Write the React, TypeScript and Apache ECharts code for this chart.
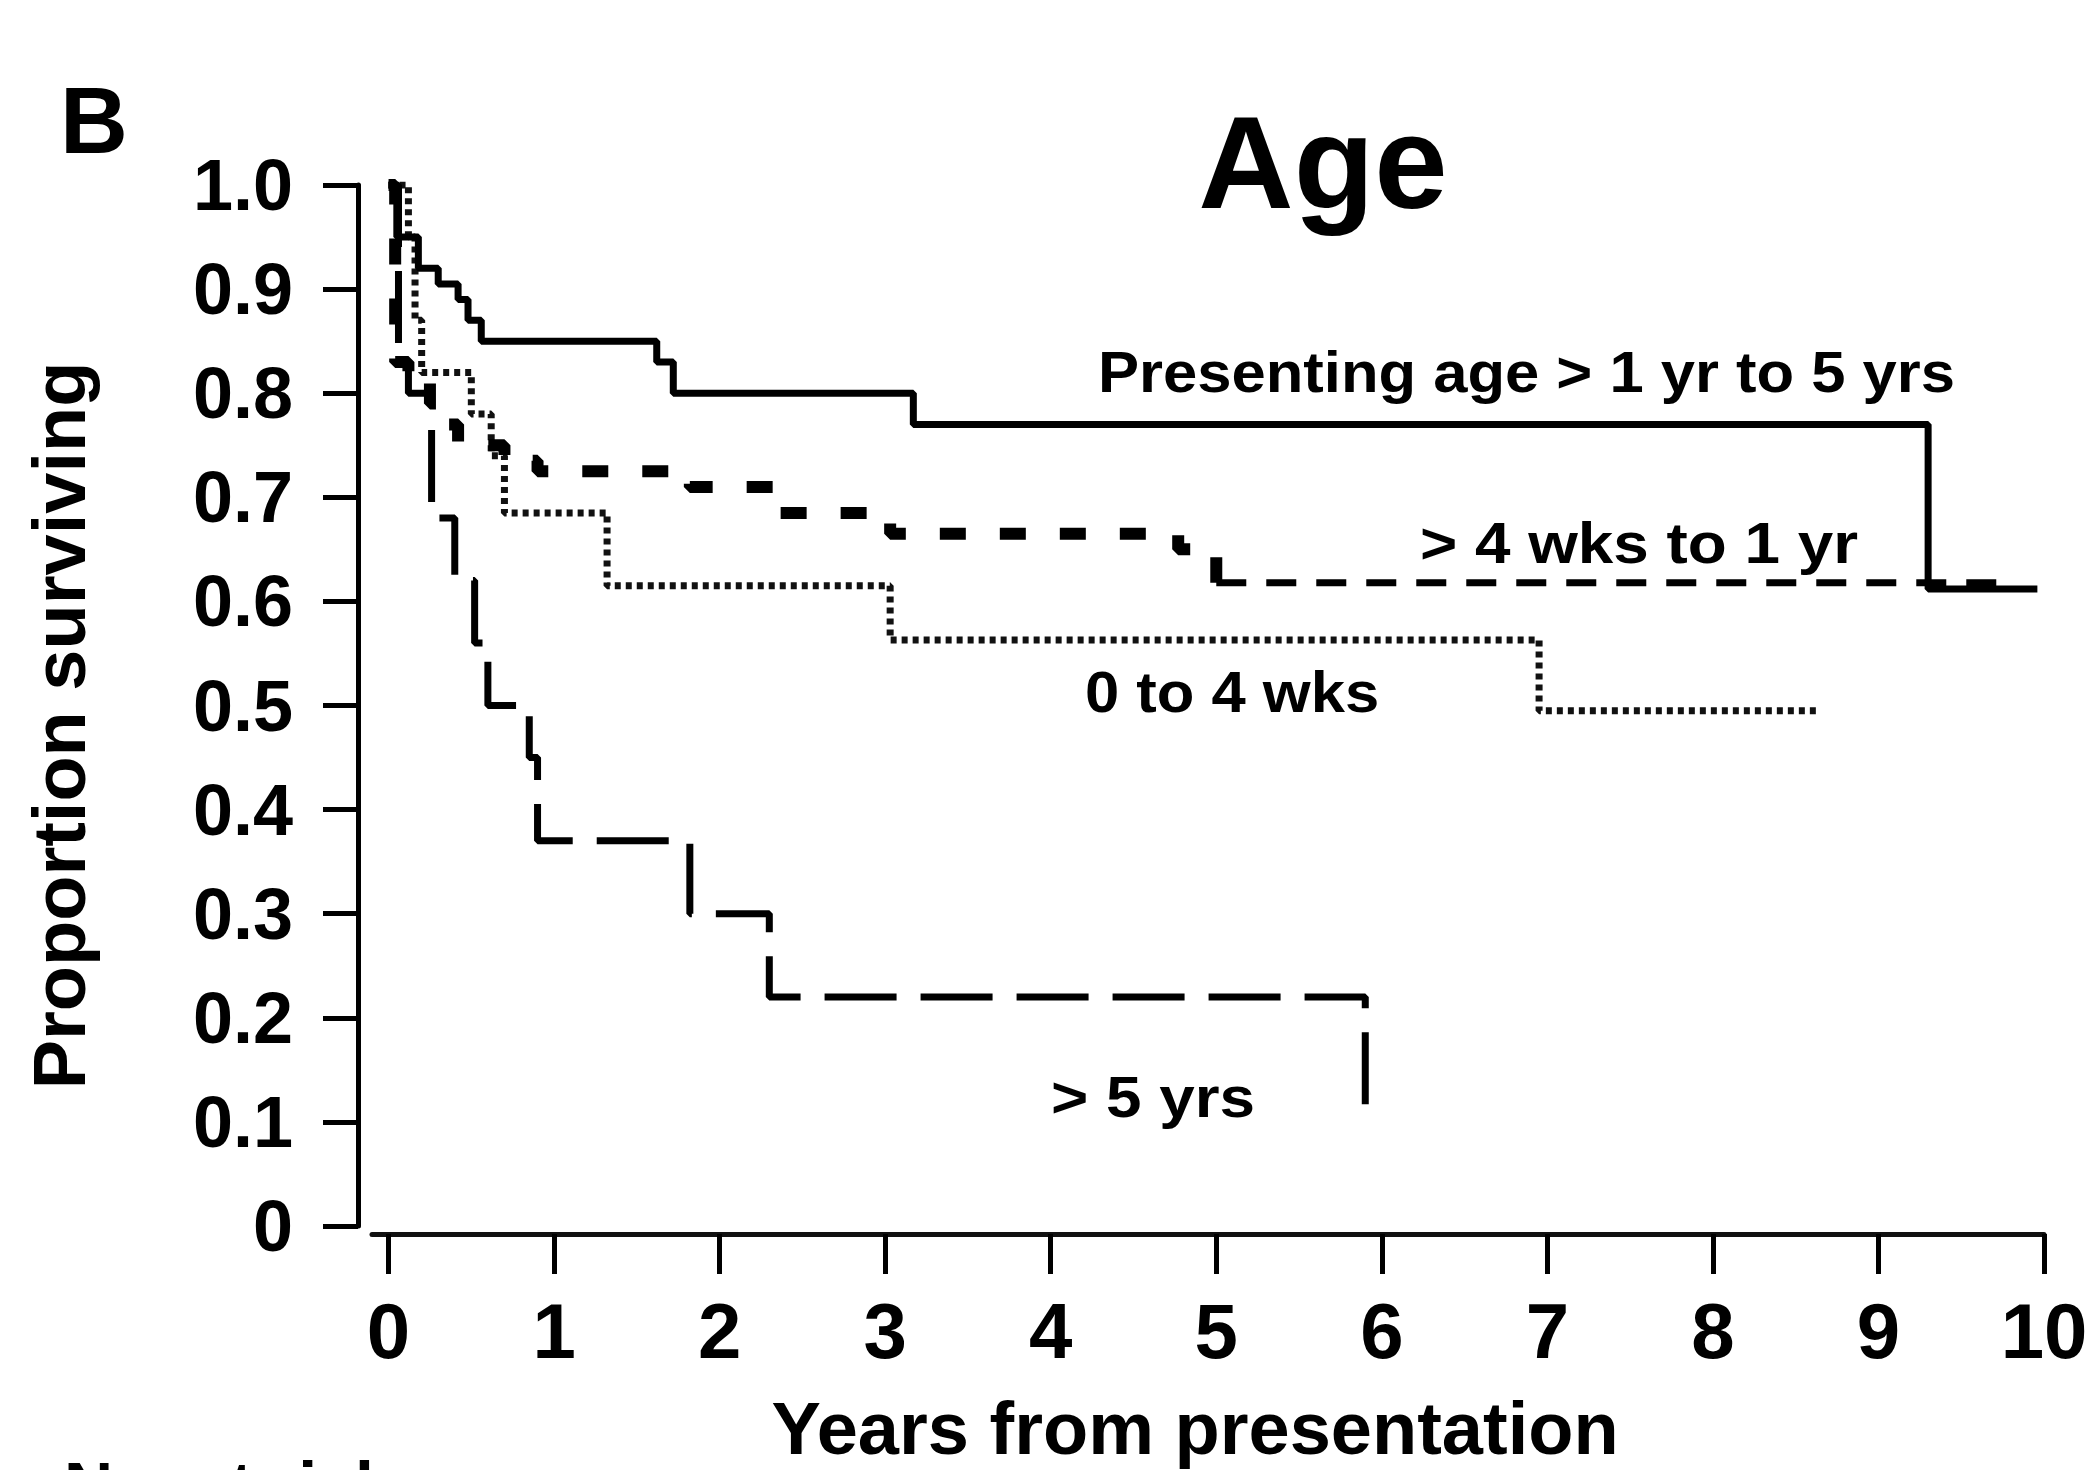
import React, { useEffect, useRef } from 'react';
import * as echarts from 'echarts';

// ---- Data ----
const xTickValues = [0, 1, 2, 3, 4, 5, 6, 7, 8, 9, 10];
const yTickLabels = ['0', '0.1', '0.2', '0.3', '0.4', '0.5', '0.6', '0.7', '0.8', '0.9', '1.0'];

// Presenting age > 1 yr to 5 yrs (solid)
const timesAge1to5 = [0, 0.05, 0.18, 0.3, 0.42, 0.48, 0.56, 1.62, 1.72, 3.17, 9.3, 9.96];
const survAge1to5 = [1.0, 0.95, 0.92, 0.905, 0.89, 0.87, 0.85, 0.83, 0.8, 0.77, 0.612, 0.612];

// > 4 wks to 1 yr (bold dashes, thinner after ~5 yrs)
const timesAge4wTo1y = [0, 0.04, 0.12, 0.25, 0.36, 0.42, 0.7, 0.9, 1.82, 2.34, 3.03, 4.77, 5.0, 9.75];
const survAge4wTo1y = [1.0, 0.83, 0.81, 0.79, 0.77, 0.75, 0.735, 0.725, 0.71, 0.685, 0.665, 0.65, 0.618, 0.618];
const boldPartEnd = 13; // points before this index are drawn with the heavy dash

// 0 to 4 wks (dotted)
const timesAge0To4w = [0, 0.12, 0.16, 0.2, 0.5, 0.62, 0.7, 1.32, 3.03, 6.95, 8.65];
const survAge0To4w = [1.0, 0.95, 0.87, 0.82, 0.78, 0.74, 0.685, 0.615, 0.563, 0.495, 0.495];

// > 5 yrs (long dashes)
const timesAgeOver5 = [0, 0.06, 0.12, 0.26, 0.4, 0.52, 0.6, 0.85, 0.9, 1.82, 2.3, 5.9];
const survAgeOver5 = [1.0, 0.83, 0.8, 0.68, 0.62, 0.56, 0.5, 0.45, 0.37, 0.3, 0.22, 0.11];

const FONT = "'Liberation Sans', Arial, Helvetica, sans-serif";

const pairs = (t: number[], s: number[]) => t.map((v, i) => [v, s[i]]);

export default function App() {
  const ref = useRef<HTMLDivElement>(null);

  useEffect(() => {
    document.body.style.margin = '0';
    if (!ref.current) return;
    const chart = echarts.init(ref.current, null, { renderer: 'svg' });

    const d4w = pairs(timesAge4wTo1y, survAge4wTo1y);

    const option: any = {
      animation: false,
      backgroundColor: '#ffffff',
      grid: { left: 372, right: 56, top: 185, bottom: 231, containLabel: false },
      xAxis: {
        type: 'value',
        min: -0.1,
        max: 10,
        offset: 8,
        splitLine: { show: false },
        axisLine: { show: true, onZero: false, lineStyle: { color: '#111', width: 5 } },
        axisTick: { show: true, length: 40, customValues: xTickValues, lineStyle: { color: '#000', width: 5 } },
        axisLabel: {
          customValues: xTickValues,
          margin: 58,
          fontSize: 78,
          fontWeight: 'bold',
          color: '#000',
          fontFamily: FONT,
        },
        name: 'Years from presentation',
        nameLocation: 'middle',
        nameGap: 157,
        nameTextStyle: { fontSize: 74, fontWeight: 'bold', color: '#000', fontFamily: FONT, padding: [0, 26, 0, 0] },
      },
      yAxis: {
        type: 'value',
        min: 0,
        max: 1,
        interval: 0.1,
        offset: 14,
        splitLine: { show: false },
        axisLine: { show: true, onZero: false, lineStyle: { color: '#000', width: 5 } },
        axisTick: { show: true, length: 35, lineStyle: { color: '#000', width: 5 } },
        axisLabel: {
          margin: 65,
          fontSize: 72,
          fontWeight: 'bold',
          color: '#000',
          fontFamily: FONT,
          padding: [10, 0, 0, 0],
          formatter: (v: number) => yTickLabels[Math.round(v * 10)],
        },
        name: 'Proportion surviving',
        nameLocation: 'middle',
        nameRotate: 90,
        nameGap: 262,
        nameTextStyle: { fontSize: 74, fontWeight: 'bold', color: '#000', fontFamily: FONT, padding: [0, 40, 0, 0] },
      },
      series: [
        {
          name: 'Presenting age > 1 yr to 5 yrs',
          type: 'line',
          step: 'end',
          symbol: 'none',
          data: pairs(timesAge1to5, survAge1to5),
          lineStyle: { color: '#000', width: 7 },
          z: 5,
        },
        {
          name: '> 4 wks to 1 yr',
          type: 'line',
          step: 'end',
          symbol: 'none',
          data: d4w.slice(0, boldPartEnd),
          lineStyle: { color: '#000', width: 12, type: [26, 34], cap: 'butt' },
          z: 4,
        },
        {
          name: '> 4 wks to 1 yr ',
          type: 'line',
          step: 'end',
          symbol: 'none',
          data: d4w.slice(boldPartEnd - 1),
          lineStyle: { color: '#000', width: 7, type: [30, 20], cap: 'butt' },
          z: 4,
        },
        {
          name: '0 to 4 wks',
          type: 'line',
          step: 'end',
          symbol: 'none',
          data: pairs(timesAge0To4w, survAge0To4w),
          lineStyle: { color: '#111', width: 7, type: [6, 5], cap: 'butt' },
          z: 3,
        },
        {
          name: '> 5 yrs',
          type: 'line',
          step: 'end',
          symbol: 'none',
          data: pairs(timesAgeOver5, survAgeOver5),
          lineStyle: { color: '#000', width: 7, type: [72, 24], cap: 'butt' },
          z: 3,
        },
      ],
      graphic: [
        { type: 'text', x: 60, y: 120, style: { text: 'B', fontSize: 94, fontWeight: 'bold', fontFamily: FONT, fill: '#000', align: 'left', verticalAlign: 'middle' } },
        { type: 'text', x: 1323, y: 162, style: { text: 'Age', fontSize: 132, fontWeight: 'bold', fontFamily: FONT, fill: '#000', align: 'center', verticalAlign: 'middle' } },
        { type: 'text', x: 1098, y: 372, scaleX: 1.08, style: { text: 'Presenting age > 1 yr to 5 yrs', fontSize: 57, fontWeight: 'bold', fontFamily: FONT, fill: '#000', align: 'left', verticalAlign: 'middle' } },
        { type: 'text', x: 1420, y: 543, scaleX: 1.12, style: { text: '> 4 wks to 1 yr', fontSize: 57, fontWeight: 'bold', fontFamily: FONT, fill: '#000', align: 'left', verticalAlign: 'middle' } },
        { type: 'text', x: 1085, y: 692, scaleX: 1.08, style: { text: '0 to 4 wks', fontSize: 57, fontWeight: 'bold', fontFamily: FONT, fill: '#000', align: 'left', verticalAlign: 'middle' } },
        { type: 'text', x: 1051, y: 1097, scaleX: 1.12, style: { text: '> 5 yrs', fontSize: 57, fontWeight: 'bold', fontFamily: FONT, fill: '#000', align: 'left', verticalAlign: 'middle' } },
        { type: 'text', x: 64, y: 1486, style: { text: 'No. at risk', fontSize: 68, fontWeight: 'bold', fontFamily: FONT, fill: '#000', align: 'left', verticalAlign: 'middle' } },
      ],
    };

    chart.setOption(option);
    return () => chart.dispose();
  }, []);

  return <div ref={ref} style={{ width: 2100, height: 1470, background: '#ffffff' }} />;
}
